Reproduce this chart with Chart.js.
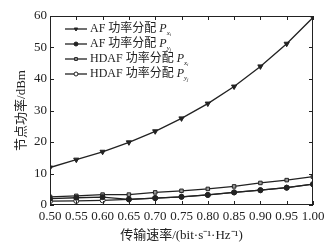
<!DOCTYPE html>
<html>
<head>
<meta charset="utf-8">
<script src="https://cdn.jsdelivr.net/npm/chart.js@4/dist/chart.umd.min.js"></script>
<style>
  html, body { margin: 0; padding: 0; background: #fff; }
  #wrap { width: 333px; height: 243px; }
</style>
</head>
<body>
<div id="wrap"><canvas id="chart" width="333" height="243"></canvas></div>
<script>
const rates = [0.50, 0.55, 0.60, 0.65, 0.70, 0.75, 0.80, 0.85, 0.90, 0.95, 1.00];
const afPx   = [11.9, 14.4, 16.9, 19.9, 23.4, 27.5, 32.2, 37.6, 44.0, 51.2, 59.5];
const afPy   = [2.0, 2.3, 2.5, 1.8, 2.2, 2.6, 3.2, 4.0, 4.7, 5.5, 6.6];
const hdafPx = [2.6, 2.9, 3.3, 3.3, 4.0, 4.5, 5.1, 5.9, 7.0, 7.9, 9.0];
const hdafPy = [1.2, 1.3, 1.5, 1.8, 2.2, 2.6, 3.2, 4.0, 4.7, 5.5, 6.6];
const yTicks = [0, 10, 20, 30, 40, 50, 60];

const legendNames = [
    ["AF 功率分配 ", "x", "i"],
    ["AF 功率分配 ", "y", "j"],
    ["HDAF 功率分配 ", "x", "i"],
    ["HDAF 功率分配 ", "y", "j"]
];

const serif = "'Liberation Serif', 'Noto Sans CJK SC', serif";
const ink = "#222";

function points(ys) {
    return rates.map((r, i) => ({ x: r, y: ys[i] }));
}

function makeSet(label, ys, style, fill) {
    return {
        label: label,
        data: points(ys),
        borderColor: ink,
        borderWidth: 1.3,
        pointStyle: style,
        pointRotation: style == 'triangle' ? 180 : 0,
        pointRadius: style == 'triangle' ? 3 : 2.5,
        pointBackgroundColor: fill,
        pointBorderColor: ink,
        pointBorderWidth: 1,
        tension: 0
    };
}

// frame, inward ticks and the custom legend with subscripts
const extras = {
    id: 'extras',
    afterDraw(chart) {
        const ctx = chart.ctx;
        const a = chart.chartArea;
        const xs = chart.scales.x, ys = chart.scales.y;
        ctx.save();
        ctx.strokeStyle = ink;
        ctx.lineWidth = 1;
        ctx.strokeRect(a.left + 0.5, a.top + 0.5, a.right - a.left - 1, a.bottom - a.top - 1);
        rates.forEach(r => {
            const px = Math.round(xs.getPixelForValue(r)) + 0.5;
            ctx.beginPath();
            ctx.moveTo(px, a.bottom); ctx.lineTo(px, a.bottom - 4);
            ctx.moveTo(px, a.top); ctx.lineTo(px, a.top + 4);
            ctx.stroke();
        });
        yTicks.forEach(v => {
            const py = Math.round(ys.getPixelForValue(v)) + 0.5;
            ctx.beginPath();
            ctx.moveTo(a.left, py); ctx.lineTo(a.left + 4, py);
            ctx.moveTo(a.right, py); ctx.lineTo(a.right - 4, py);
            ctx.stroke();
        });

        // legend
        const lx = a.left + 15, ly = a.top + 13, step = 15;
        chart.data.datasets.forEach((ds, i) => {
            const y = ly + i * step;
            ctx.strokeStyle = ink;
            ctx.lineWidth = 1.3;
            ctx.beginPath();
            ctx.moveTo(lx, y); ctx.lineTo(lx + 22, y);
            ctx.stroke();
            ctx.fillStyle = ds.pointBackgroundColor;
            ctx.lineWidth = 1;
            Chart.helpers.drawPoint(ctx, {
                pointStyle: ds.pointStyle,
                rotation: ds.pointRotation,
                radius: 2,
                borderWidth: 1
            }, lx + 11, y);
            const [txt, s1, s2] = legendNames[i];
            ctx.fillStyle = ink;
            ctx.textBaseline = 'middle';
            ctx.font = "12px " + serif;
            let tx = lx + 25;
            ctx.fillText(txt, tx, y);
            tx += ctx.measureText(txt).width;
            ctx.font = "italic 12px 'Liberation Serif', serif";
            ctx.fillText("P", tx, y);
            tx += ctx.measureText("P").width;
            ctx.font = "italic 7px 'Liberation Serif', serif";
            ctx.fillText(s1, tx, y + 4);
            tx += ctx.measureText(s1).width;
            ctx.font = "italic 5px 'Liberation Serif', serif";
            ctx.fillText(s2, tx, y + 6);
        });
        ctx.restore();
    }
};

new Chart(document.getElementById('chart'), {
    type: 'line',
    data: {
        datasets: [
            makeSet('AF Px', afPx, 'triangle', ink),
            makeSet('AF Py', afPy, 'circle', ink),
            makeSet('HDAF Px', hdafPx, 'rect', '#999'),
            makeSet('HDAF Py', hdafPy, 'circle', '#fff')
        ]
    },
    options: {
        responsive: false,
        animation: false,
        layout: { padding: { top: 16, right: 20, left: 14, bottom: 0 } },
        plugins: { legend: { display: false }, tooltip: { enabled: false } },
        scales: {
            x: {
                type: 'linear',
                min: 0.5,
                max: 1.0,
                afterBuildTicks(scale) {
                    scale.ticks = rates.map(v => ({ value: v }));
                },
                afterFit(scale) { scale.height = 38; },
                grid: { display: false, drawTicks: false },
                border: { display: false },
                ticks: {
                    color: ink,
                    padding: 4,
                    maxRotation: 0,
                    autoSkip: false,
                    font: { family: serif, size: 13 },
                    callback: v => v.toFixed(2)
                },
                title: {
                    display: true,
                    text: '传输速率/(bit·s⁻¹·Hz⁻¹)',
                    color: ink,
                    padding: { top: 0, bottom: 0 },
                    font: { family: serif, size: 13 }
                }
            },
            y: {
                min: 0,
                max: 60,
                afterBuildTicks(scale) {
                    scale.ticks = yTicks.map(v => ({ value: v }));
                },
                afterFit(scale) { scale.width = 36; },
                grid: { display: false, drawTicks: false },
                border: { display: false },
                ticks: {
                    color: ink,
                    padding: 3,
                    font: { family: serif, size: 13 }
                },
                title: {
                    display: true,
                    text: '节点功率/dBm',
                    color: ink,
                    padding: { top: 0, bottom: 0 },
                    font: { family: serif, size: 13 }
                }
            }
        }
    },
    plugins: [extras]
});
</script>
</body>
</html>
